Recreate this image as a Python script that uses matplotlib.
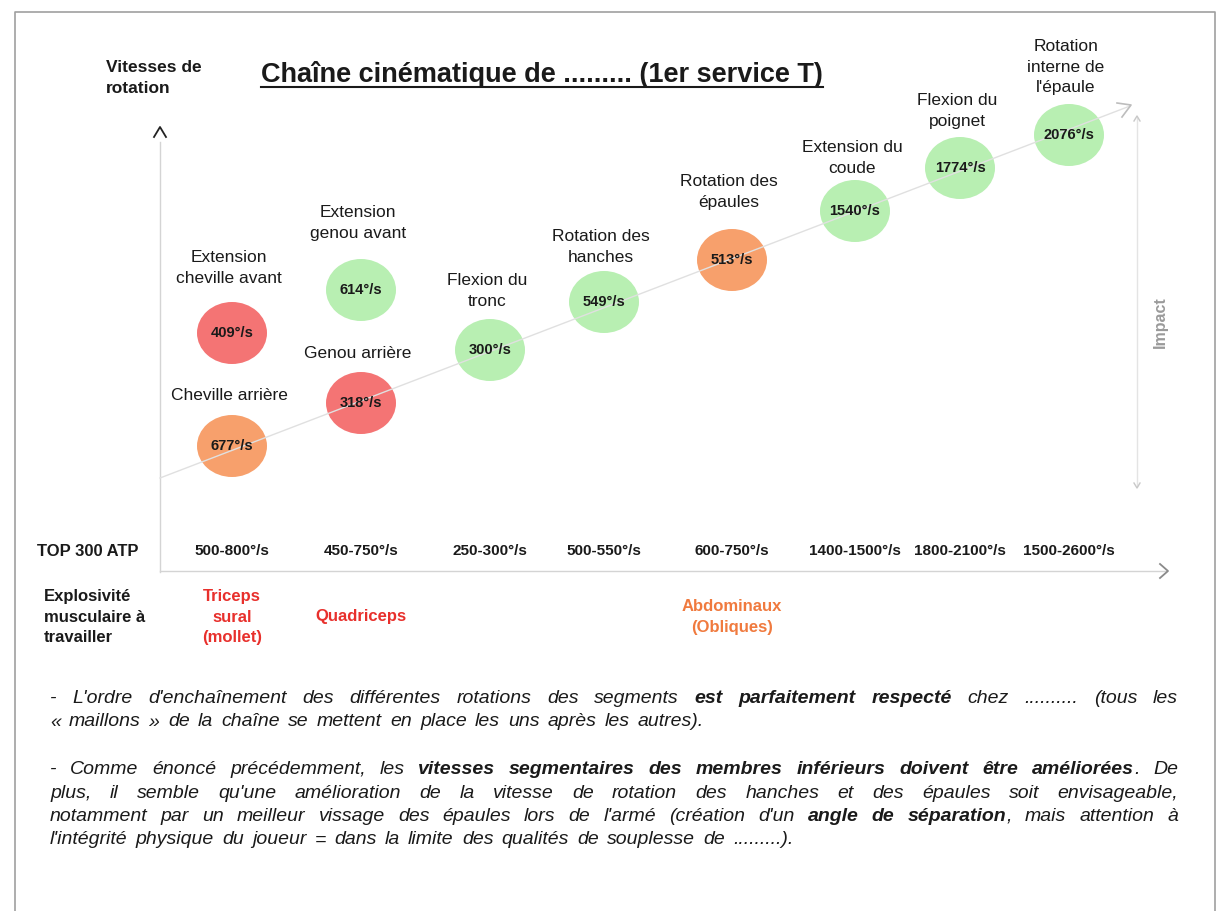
import matplotlib.pyplot as plt
from matplotlib.patches import Ellipse

# --- data -------------------------------------------------------------
segments = ["Cheville arrière", "Extension\ncheville avant", "Genou arrière",
            "Extension\ngenou avant", "Flexion du\ntronc", "Rotation des\nhanches",
            "Rotation des\népaules", "Extension du\ncoude", "Flexion du\npoignet",
            "Rotation\ninterne de\nl'épaule"]
speeds = [677, 409, 318, 614, 300, 549, 513, 1540, 1774, 2076]
status = ["moyen", "faible", "faible", "bon", "bon", "bon", "moyen", "bon", "bon", "bon"]

atp_ranges = ["500-800°/s", "450-750°/s", "250-300°/s", "500-550°/s",
              "600-750°/s", "1400-1500°/s", "1800-2100°/s", "1500-2600°/s"]

muscles = ["Triceps\nsural\n(mollet)", "Quadriceps", "Abdominaux\n(Obliques)"]
muscle_cols = [0, 1, 4]

paragraphs = [
    ["- L'ordre d'enchaînement des différentes rotations des segments *est parfaitement respecté* chez .......... (tous les",
     "« maillons » de la chaîne se mettent en place les uns après les autres)."],
    ["- Comme énoncé précédemment, les *vitesses segmentaires des membres inférieurs doivent être améliorées*. De",
     "plus, il semble qu'une amélioration de la vitesse de rotation des hanches et des épaules soit envisageable,",
     "notamment par un meilleur vissage des épaules lors de l'armé (création d'un *angle de séparation*, mais attention à",
     "l'intégrité physique du joueur = dans la limite des qualités de souplesse de .........)."],
]

# --- layout (pixels) ---------------------------------------------------
col_x = [232, 361, 490, 604, 732, 855, 960, 1069]
seg_col = [0, 0, 1, 1, 2, 3, 4, 5, 6, 7]
seg_y = [446, 333, 403, 290, 350, 302, 260, 211, 168, 135]
label_dy = [-51, -65, -50, -67, -59, -55, -68, -53, -57, -68]
colors = {"faible": "#f47474", "moyen": "#f7a06c", "bon": "#b8efb2"}
ink = "#1a1a1a"

plt.rcParams["font.family"] = ["Liberation Sans", "DejaVu Sans"]

fig = plt.figure(figsize=(12.22, 9.11), dpi=100)
ax = fig.add_axes([0, 0, 1, 1])
ax.set_xlim(0, 1222)
ax.set_ylim(911, 0)
ax.axis("off")

# page frame
ax.plot([15, 15, 1215, 1215], [915, 12, 12, 915], color="#a0a0a0", lw=1.2)

# axes arrows
ax.plot([160, 160], [142, 572], color="#d4d4d4", lw=1)
ax.plot([154, 160, 166], [137, 127, 137], color="#222222", lw=1.3)
ax.plot([160, 1166], [571, 571], color="#d4d4d4", lw=1)
ax.plot([1160, 1168, 1160], [564, 571, 578], color="#8a8a8a", lw=1.3)
ax.plot([160, 1130], [478, 106], color="#e0e0e0", lw=1)
ax.plot([1117, 1131, 1122], [103, 105, 117], color="#bdbdbd", lw=1.2)
ax.plot([1137, 1137], [118, 486], color="#e4e4e4", lw=1)
ax.plot([1134, 1137, 1140], [121, 116, 121], color="#c8c8c8", lw=1)
ax.plot([1134, 1137, 1140], [483, 488, 483], color="#c8c8c8", lw=1)
ax.text(1160, 322, "Impact", rotation=90, ha="center", va="center",
        fontsize=11.5, fontweight="bold", color="#9a9a9a")

# header texts
ax.text(106, 78, "Vitesses de\nrotation", ha="left", va="center", fontsize=12.5,
        fontweight="bold", color=ink, linespacing=1.5)
title = ax.text(542, 74, "Chaîne cinématique de ......... (1er service T)", ha="center",
                va="center", fontsize=19.5, fontweight="bold", color=ink)
fig.canvas.draw()
renderer = fig.canvas.get_renderer()
bb = title.get_window_extent(renderer)
ax.plot([bb.x0, bb.x1], [87, 87], color=ink, lw=1.5)

# circles + labels
for name, v, st, c, y, dy in zip(segments, speeds, status, seg_col, seg_y, label_dy):
    x = col_x[c]
    ax.add_patch(Ellipse((x, y), 70, 62, facecolor=colors[st], edgecolor="none"))
    ax.text(x, y, f"{v}°/s", ha="center", va="center", fontsize=10.5,
            fontweight="bold", color=ink)
    ax.text(x - 3, y + dy, name, ha="center", va="center", fontsize=12.5,
            color=ink, linespacing=1.45)

# ATP row
ax.text(37, 551, "TOP 300 ATP", ha="left", va="center", fontsize=12,
        fontweight="bold", color=ink)
for c, r in enumerate(atp_ranges):
    ax.text(col_x[c], 551, r, ha="center", va="center", fontsize=11,
            fontweight="bold", color=ink)

ax.text(44, 617, "Explosivité\nmusculaire à\ntravailler", ha="left", va="center",
        fontsize=12, fontweight="bold", color=ink, linespacing=1.45)
for m, c in zip(muscles, muscle_cols):
    col = "#f07a3e" if c == 4 else "#e8302c"
    ax.text(col_x[c], 617, m, ha="center", va="center", fontsize=12,
            fontweight="bold", color=col, linespacing=1.45)


# justified paragraph text
def parse_words(line):
    words, bold = [], False
    for raw in line.split(" "):
        pieces, buf = [], ""
        for ch in raw:
            if ch == "*":
                if buf:
                    pieces.append((buf, bold))
                buf = ""
                bold = not bold
            else:
                buf += ch
        if buf:
            pieces.append((buf, bold))
        words.append(pieces)
    return words


def draw_line(line, y, x0, x1, justify, size=14):
    words = parse_words(line)
    arts, widths = [], []
    for pieces in words:
        group, w = [], 0
        for txt, b in pieces:
            t = ax.text(0, y, txt, ha="left", va="baseline", fontsize=size,
                        style="italic", fontweight="bold" if b else "normal", color=ink)
            tw = t.get_window_extent(renderer).width
            group.append((t, w))
            w += tw
        arts.append(group)
        widths.append(w)
    space = size * 100 / 72 * 0.42
    if justify and len(words) > 1:
        space = (x1 - x0 - sum(widths)) / (len(words) - 1)
    x = x0
    for group, w in zip(arts, widths):
        for t, off in group:
            t.set_x(x + off)
        x += w + space


y = 703
for para in paragraphs:
    for i, line in enumerate(para):
        draw_line(line, y, 50, 1178, i < len(para) - 1)
        y += 23.5
    y += 24

fig.savefig("out.png", dpi=100)
